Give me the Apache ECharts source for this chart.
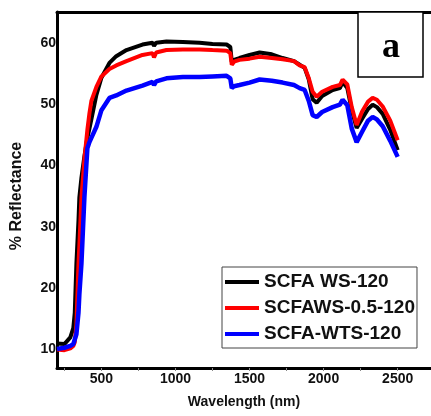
<!DOCTYPE html>
<html>
<head>
<meta charset="utf-8">
<script src="https://cdn.jsdelivr.net/npm/echarts@6/dist/echarts.min.js"></script>
<style>
html,body{margin:0;padding:0;background:#fff;}
#chart{width:431px;height:416px;}
</style>
</head>
<body>
<div id="chart"></div>
<script>
const wavelength = [200, 250, 290, 310, 320, 331, 345, 351, 365, 385, 405, 419, 432, 466, 500, 554, 600, 669, 777, 845, 855, 870, 939, 1050, 1162, 1250, 1345, 1370, 1380, 1395, 1432, 1500, 1568, 1650, 1723, 1800, 1838, 1872, 1900, 1926, 1953, 1990, 2061, 2110, 2128, 2160, 2190, 2223, 2260, 2300, 2331, 2360, 2399, 2450, 2500];
const scfaWS120 = [11.0, 10.9, 12.0, 13.5, 16.0, 24.0, 31.0, 34.8, 38.0, 41.5, 44.5, 46.0, 47.5, 51.5, 54.3, 56.7, 57.8, 58.8, 59.7, 60.0, 59.5, 60.0, 60.2, 60.1, 60.0, 59.8, 59.7, 59.3, 56.9, 57.2, 57.5, 58.0, 58.4, 58.1, 57.5, 57.0, 56.4, 55.9, 54.0, 50.8, 50.2, 51.3, 52.3, 52.6, 53.6, 52.6, 49.0, 46.1, 47.6, 49.2, 49.9, 49.5, 48.4, 45.8, 42.5];
const scfaWS05120 = [10.0, 9.9, 10.2, 10.6, 11.2, 14.0, 24.0, 27.0, 34.8, 41.0, 45.8, 48.5, 50.5, 52.8, 54.5, 55.7, 56.3, 57.0, 58.0, 58.3, 57.6, 58.4, 58.8, 58.9, 58.9, 58.8, 58.7, 58.3, 56.4, 56.9, 57.2, 57.4, 57.7, 57.5, 57.3, 57.0, 56.3, 56.0, 54.2, 52.0, 51.2, 52.0, 52.8, 53.1, 54.0, 53.2, 49.5, 46.6, 48.8, 50.4, 51.0, 50.7, 49.6, 47.3, 44.1];
const scfaWTS120 = [10.1, 10.3, 10.6, 10.9, 11.1, 12.5, 16.0, 19.0, 24.0, 34.8, 42.8, 43.8, 44.5, 46.3, 49.0, 51.0, 51.4, 52.2, 53.0, 53.6, 53.1, 53.7, 54.2, 54.4, 54.4, 54.5, 54.6, 54.2, 52.6, 52.9, 53.1, 53.5, 54.0, 53.8, 53.5, 53.1, 52.6, 52.3, 50.5, 48.2, 47.9, 48.7, 49.5, 49.9, 50.7, 49.8, 46.0, 43.8, 45.5, 47.3, 47.9, 47.5, 46.4, 44.0, 41.4];
const seriesNames = ['SCFA WS-120', 'SCFAWS-0.5-120', 'SCFA-WTS-120'];
const xTickLabels = [500, 1000, 1500, 2000, 2500];
const xTickMarks = [250, 500, 750, 1000, 1250, 1500, 1750, 2000, 2250, 2500];
const yTickLabels = [10, 20, 30, 40, 50, 60];

const pair = vals => wavelength.map((w, i) => [w, vals[i]]);
const FONT = '"Liberation Sans", Arial, sans-serif';

const chart = echarts.init(document.getElementById('chart'), null, {renderer: 'canvas'});
chart.setOption({
  animation: false,
  backgroundColor: '#ffffff',
  grid: {left: 57, right: 0, top: 12, bottom: 48, containLabel: false},
  xAxis: [{
    type: 'value', min: 200, max: 2725, position: 'bottom',
    name: 'Wavelength (nm)', nameLocation: 'middle', nameGap: 27,
    nameTextStyle: {fontFamily: FONT, fontWeight: 'bold', fontSize: 14, color: '#111'},
    axisLine: {show: true, lineStyle: {color: '#000', width: 3}},
    axisTick: {show: true, customValues: xTickMarks, length: 3, lineStyle: {color: '#888', width: 1}},
    axisLabel: {customValues: xTickLabels, formatter: v => String(v), fontFamily: FONT, fontWeight: 'bold', fontSize: 14, color: '#111', margin: 4},
    splitLine: {show: false}
  }, {
    type: 'value', min: 200, max: 2725, position: 'top',
    axisLine: {show: true, onZero: false, lineStyle: {color: '#000', width: 3}},
    axisTick: {show: false}, axisLabel: {show: false}, splitLine: {show: false}
  }],
  yAxis: {
    type: 'value', min: 7, max: 65,
    name: '% Reflectance', nameLocation: 'middle', nameGap: 32, nameRotate: 90,
    nameTextStyle: {fontFamily: FONT, fontWeight: 'bold', fontSize: 16, color: '#111', padding: [0, 12, 0, 0]},
    axisLine: {show: true, lineStyle: {color: '#000', width: 3}},
    axisTick: {show: false},
    axisLabel: {customValues: yTickLabels, formatter: v => String(v), fontFamily: FONT, fontWeight: 'bold', fontSize: 14, color: '#111', margin: 1},
    splitLine: {show: false}
  },
  legend: {
    orient: 'vertical', left: 222, top: 267,
    data: seriesNames,
    icon: 'rect', itemWidth: 34, itemHeight: 4, itemGap: 6,
    borderColor: '#444', borderWidth: 1, padding: [5, 2, 4, 3],
    textStyle: {fontFamily: FONT, fontWeight: 'bold', fontSize: 19, lineHeight: 20, color: '#111'},
    backgroundColor: '#fff'
  },
  graphic: [
    {type: 'rect', shape: {x: 358, y: 12, width: 65, height: 65}, style: {fill: '#fff', stroke: '#000', lineWidth: 1.5}, z: 50},
    {type: 'text', x: 391, y: 66, style: {text: 'a', fontFamily: '"Liberation Serif", "Times New Roman", serif', fontWeight: 'bold', fontSize: 36, fill: '#000', textAlign: 'center', textVerticalAlign: 'bottom'}, z: 51}
  ],
  series: [
    {name: seriesNames[0], type: 'line', data: pair(scfaWS120), showSymbol: false, smooth: false, color: '#000000', lineStyle: {width: 4, color: '#000000'}, z: 2},
    {name: seriesNames[1], type: 'line', data: pair(scfaWS05120), showSymbol: false, smooth: false, color: '#ff0000', lineStyle: {width: 4, color: '#ff0000'}, z: 3},
    {name: seriesNames[2], type: 'line', data: pair(scfaWTS120), showSymbol: false, smooth: false, color: '#0000ff', lineStyle: {width: 4.5, color: '#0000ff'}, z: 4}
  ]
});
</script>
</body>
</html>
